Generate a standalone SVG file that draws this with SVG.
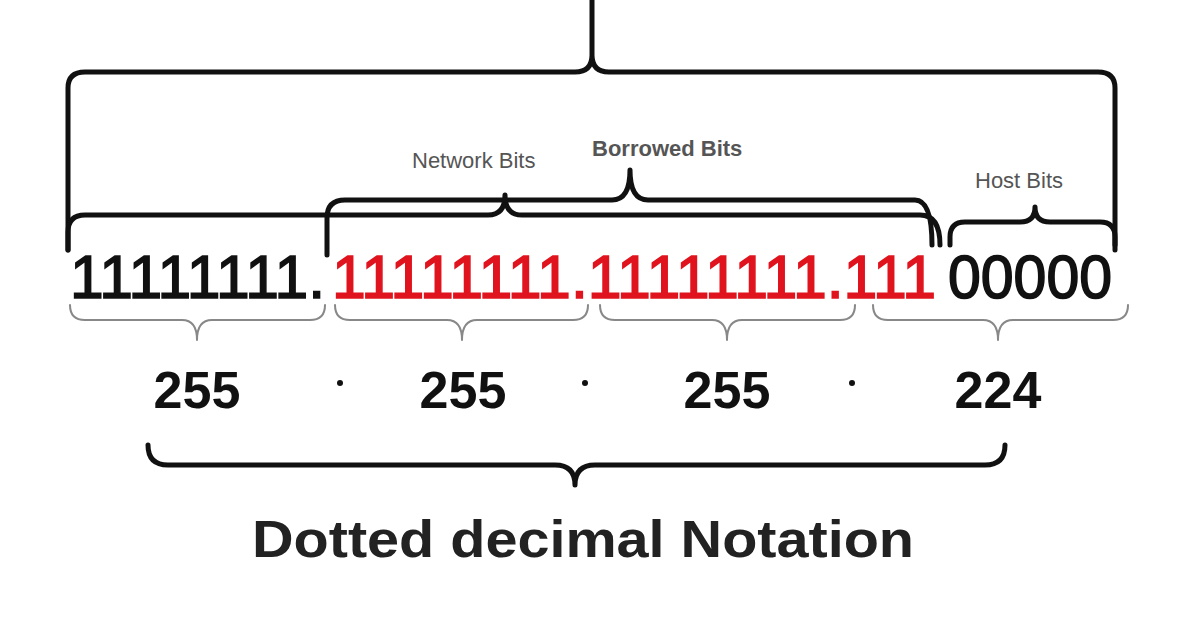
<svg xmlns="http://www.w3.org/2000/svg" width="1200" height="628" viewBox="0 0 1200 628">
<style>
.b{fill:none;stroke:#111;stroke-width:5;stroke-linecap:round;stroke-linejoin:round}
.t{fill:none;stroke:#888;stroke-width:2;stroke-linecap:round}
.big{font-family:"Liberation Sans",Arial,sans-serif;font-size:62px;stroke-width:1.6}
.num{font-family:"Liberation Sans",Arial,sans-serif;font-size:52px;font-weight:bold;fill:#111;text-anchor:middle}
.lbl{font-family:"Liberation Sans",Arial,sans-serif;font-size:22px;fill:#555}
</style>
<rect width="1200" height="628" fill="#fff"/>
<g id="connectors">
<path class="b" d="M68,250 V88 Q68,72 85,72 H575 Q592,72 592,55 V0 M592,55 Q592,72 609,72 H1098 Q1115,72 1115,88 V250"/>
<path class="b" d="M68,250 V232 Q68,215 85,215 H488 Q505,215 505,195 M505,195 Q505,215 522,215 H920 Q940,215 940,245"/>
<path class="b" d="M327,255 V218 Q327,200 345,200 H612 Q630,200 630,170 M630,170 Q630,200 648,200 H915 Q932,200 932,245"/>
<path class="b" d="M950,245 V237 Q950,222 965,222 H1020 Q1035,222 1035,207 M1035,207 Q1035,222 1050,222 H1100 Q1115,222 1115,237 V245"/>
<path class="t" d="M70,305 Q70,320 85,320 H182 Q197,320 197,340 M197,340 Q197,320 212,320 H310 Q325,320 325,305"/>
<path class="t" d="M335,305 Q335,320 350,320 H447 Q462,320 462,340 M462,340 Q462,320 477,320 H573 Q588,320 588,305"/>
<path class="t" d="M600,305 Q600,320 615,320 H712 Q727,320 727,340 M727,340 Q727,320 742,320 H840 Q855,320 855,305"/>
<path class="t" d="M873,305 Q873,320 888,320 H983 Q998,320 998,340 M998,340 Q998,320 1013,320 H1113 Q1128,320 1128,305"/>
<path class="b" d="M148,445 Q148,465 168,465 H555 Q575,465 575,485 M575,485 Q575,465 595,465 H985 Q1005,465 1005,445"/>
</g>
<g id="bits">
<text class="big" x="70" y="298" fill="#111" stroke="#111" textLength="255" lengthAdjust="spacingAndGlyphs">11111111.</text>
<text class="big" x="332" y="298" fill="#e0141e" stroke="#e0141e" textLength="604" lengthAdjust="spacingAndGlyphs">11111111.11111111.111</text>
<text class="big" x="948" y="298" fill="#111" stroke="#111" textLength="164" lengthAdjust="spacingAndGlyphs">00000</text>
</g>
<g id="labels">
<text class="lbl" x="412" y="168">Network Bits</text>
<text class="lbl" x="592" y="156" font-weight="bold" fill="#444">Borrowed  Bits</text>
<text class="lbl" x="975" y="188">Host Bits</text>
</g>
<g id="decimal">
<text class="num" x="197" y="408">255</text>
<text class="num" x="463" y="408">255</text>
<text class="num" x="727" y="408">255</text>
<text class="num" x="998" y="408">224</text>
<circle cx="340" cy="383" r="3" fill="#111"/>
<circle cx="585" cy="383" r="3" fill="#111"/>
<circle cx="852" cy="383" r="3" fill="#111"/>
</g>
<g id="title">
<text x="252" y="557" font-family="Liberation Sans,Arial,sans-serif" font-size="52" font-weight="bold" fill="#222" textLength="662" lengthAdjust="spacingAndGlyphs">Dotted decimal Notation</text>
</g>
</svg>
